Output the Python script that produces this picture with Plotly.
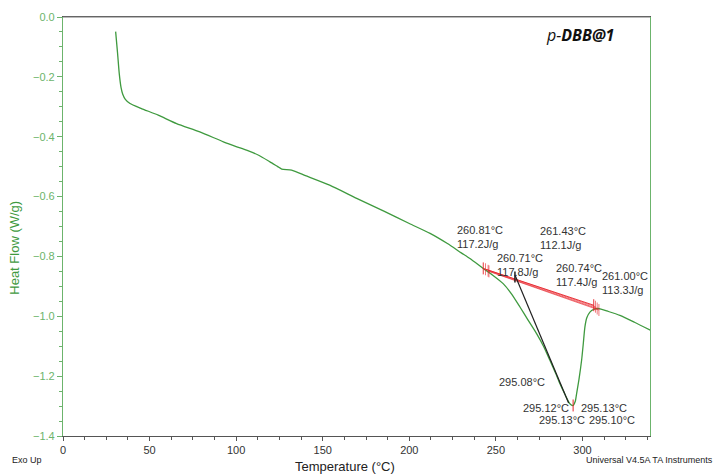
import plotly.graph_objects as go

# DSC curve (Temperature in °C, Heat Flow in W/g)
temperature = [30.4, 31.5, 32.5, 33.5, 34.5, 36, 38.7, 45, 55, 65.6, 79, 92.6, 100, 106, 113,
               119.5, 124, 126.3, 132, 140, 154, 169.6, 185, 200, 212, 222, 230, 235, 242.7,
               248, 254.2, 259, 263.9, 268.5, 273.5, 277.5, 281.2, 284.5, 287, 290, 292.7,
               294.6, 295.8, 296.6, 298, 299.5, 300.5, 301.4, 302.5, 304.3, 306.5, 309.1,
               315, 321.6, 330, 339.3]
heat_flow = [-0.049, -0.12, -0.19, -0.235, -0.258, -0.275, -0.289, -0.305, -0.328, -0.356,
             -0.384, -0.417, -0.433, -0.445, -0.462, -0.484, -0.500, -0.508, -0.512, -0.530,
             -0.562, -0.606, -0.648, -0.690, -0.723, -0.757, -0.788, -0.807, -0.840, -0.862,
             -0.891, -0.925, -0.969, -1.012, -1.058, -1.100, -1.147, -1.190, -1.225, -1.262,
             -1.292, -1.298, -1.285, -1.259, -1.210, -1.147, -1.090, -1.036, -1.005, -0.986,
             -0.977, -0.974, -0.984, -0.997, -1.020, -1.047]

# integration baselines (several overlapping)
base_x0 = [242.7, 244.0, 245.5, 246.0]
base_y0 = [-0.840, -0.843, -0.848, -0.850]
base_x1 = [306.5, 307.5, 308.5, 309.5]
base_y1 = [-0.963, -0.968, -0.974, -0.979]

# onset tangent
onset_x = [261.0, 292.0]
onset_y = [-0.862, -1.290]

# annotations
label_text = ["260.81°C<br>117.2J/g", "261.43°C<br>112.1J/g", "260.71°C<br>117.8J/g",
              "260.74°C<br>117.4J/g", "261.00°C<br>113.3J/g", "295.08°C", "295.12°C",
              "295.13°C", "295.13°C", "295.10°C"]
label_x = [226.3, 274.4, 249.4, 283.7, 310.0, 250.4, 264.4, 298.1, 273.9, 302.7]
label_y = [-0.734, -0.739, -0.829, -0.863, -0.889, -1.220, -1.305, -1.305, -1.345, -1.345]

GREEN = "#3f9a3f"
AXGREEN = "#6cb46c"
RED = "#e8232a"

fig = go.Figure()
fig.add_trace(go.Scatter(x=temperature, y=heat_flow, mode="lines",
                         line=dict(color=GREEN, width=1.3, shape="spline", smoothing=0.6),
                         hoverinfo="skip", showlegend=False))

for i in range(len(base_x0)):
    fig.add_trace(go.Scatter(x=[base_x0[i], base_x1[i]], y=[base_y0[i], base_y1[i]], mode="lines",
                             line=dict(color=RED, width=1), opacity=0.9 if i == 0 else 0.65,
                             hoverinfo="skip", showlegend=False))
    for (tx, ty) in [(base_x0[i], base_y0[i]), (base_x1[i], base_y1[i])]:
        fig.add_trace(go.Scatter(x=[tx, tx], y=[ty + 0.02, ty - 0.02], mode="lines",
                                 line=dict(color=RED, width=1), opacity=0.9 if i == 0 else 0.6,
                                 hoverinfo="skip", showlegend=False))

# red tick at the peak minimum
fig.add_trace(go.Scatter(x=[temperature[41], temperature[41]],
                         y=[heat_flow[41] + 0.02, heat_flow[41] - 0.02], mode="lines",
                         line=dict(color=RED, width=1), hoverinfo="skip", showlegend=False))

fig.add_trace(go.Scatter(x=onset_x, y=onset_y, mode="lines",
                         line=dict(color="#222222", width=1.2), hoverinfo="skip", showlegend=False))
fig.add_trace(go.Scatter(x=[onset_x[0], onset_x[0]], y=[onset_y[0] + 0.012, onset_y[0] - 0.025],
                         mode="lines", line=dict(color="#222222", width=1.5),
                         hoverinfo="skip", showlegend=False))

for t, x, y in zip(label_text, label_x, label_y):
    fig.add_annotation(x=x, y=y, text=t, showarrow=False, xanchor="left", yanchor="middle",
                       align="left", font=dict(family="Liberation Sans, Arial", size=11, color="#333333"))

fig.add_annotation(xref="paper", yref="paper", x=0.942, y=0.957, xanchor="right", yanchor="middle",
                   text="<i>p-</i><b><i>DBB@1</i></b>", showarrow=False,
                   font=dict(family="Open Sans, Liberation Sans", size=16, color="#111111"))

fig.add_annotation(xref="paper", yref="paper", x=0.48, y=-0.072, xanchor="center", yanchor="middle",
                   text="Temperature (°C)", showarrow=False,
                   font=dict(family="Liberation Sans, Arial", size=13, color="#222222"))
fig.add_annotation(xref="paper", yref="paper", x=-0.083, y=0.45, xanchor="center", yanchor="middle",
                   text="Heat Flow (W/g)", textangle=-90, showarrow=False,
                   font=dict(family="Liberation Sans, Arial", size=13, color=GREEN))
fig.add_annotation(xref="paper", yref="paper", x=-0.09, y=-0.057, xanchor="left", yanchor="middle",
                   text="Exo Up", showarrow=False,
                   font=dict(family="Liberation Sans, Arial", size=9, color="#222222"))
fig.add_annotation(xref="paper", yref="paper", x=1.11, y=-0.057, xanchor="right", yanchor="middle",
                   text="Universal V4.5A TA Instruments", showarrow=False,
                   font=dict(family="Liberation Sans, Arial", size=9, color="#222222"))

fig.update_layout(
    width=716, height=476,
    margin=dict(l=63, r=66, t=17, b=40),
    paper_bgcolor="white", plot_bgcolor="white",
    font=dict(family="Liberation Sans, Arial", size=11),
)
fig.update_xaxes(range=[0, 339], showgrid=False, zeroline=False,
                 showline=True, linecolor="#555555", linewidth=1, mirror=True,
                 tickmode="linear", tick0=0, dtick=50, ticks="outside", ticklen=4,
                 tickcolor="#555555", tickfont=dict(color="#333333", size=11),
                 minor=dict(dtick=12.5, ticks="outside", ticklen=3, tickcolor="#555555"))
fig.update_yaxes(range=[-1.4, 0], showgrid=False, zeroline=False,
                 showline=True, linecolor=AXGREEN, linewidth=1.2, mirror=True,
                 tickmode="linear", tick0=0, dtick=0.2, tickformat=".1f",
                 ticks="outside", ticklen=5, tickcolor=AXGREEN,
                 tickfont=dict(color=AXGREEN, size=11),
                 minor=dict(dtick=0.05, ticks="outside", ticklen=3, tickcolor=AXGREEN))

# grey top border drawn over the green mirrored y line
fig.add_shape(type="line", xref="paper", yref="paper", x0=0, x1=1, y0=1, y1=1,
              line=dict(color="#777777", width=1))

fig.write_html("out.html")
